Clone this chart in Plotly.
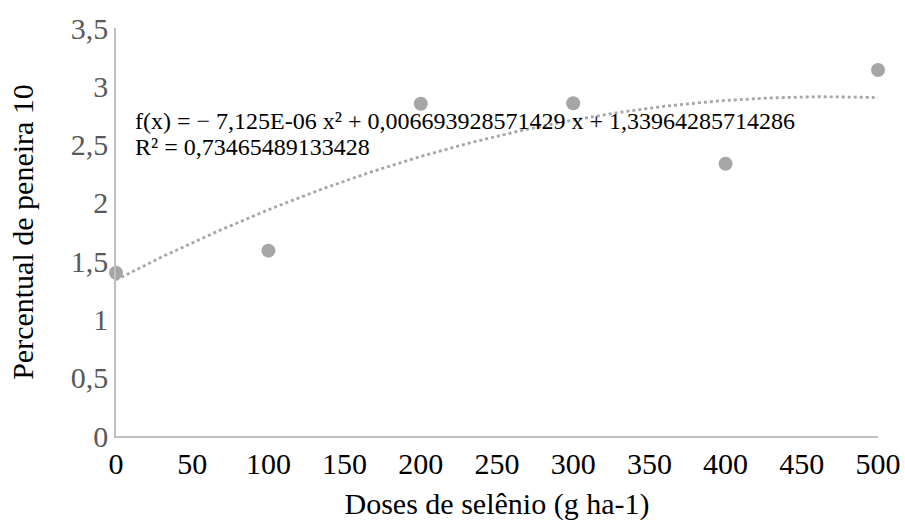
import numpy as np
import plotly.graph_objects as go

doses = [0, 100, 200, 300, 400, 500]
peneira10 = [1.40, 1.59, 2.85, 2.855, 2.335, 3.14]
x_ticks = [0, 50, 100, 150, 200, 250, 300, 350, 400, 450, 500]
y_ticks = [0, 0.5, 1, 1.5, 2, 2.5, 3, 3.5]
y_tick_text = ["0", "0,5", "1", "1,5", "2", "2,5", "3", "3,5"]
eq_line1 = "f(x) = − 7,125E-06 x² + 0,006693928571429 x + 1,33964285714286"
eq_line2 = "R² = 0,73465489133428"

coef = np.polyfit(doses, peneira10, 2)
xf = np.linspace(0, 500, 200)
yf = np.polyval(coef, xf)

FONT = "Liberation Serif"
GRAY = "#A6A6A6"

fig = go.Figure()
fig.add_trace(go.Scatter(x=xf, y=yf, mode="lines",
                         line=dict(color=GRAY, width=2.8, dash="dot"),
                         hoverinfo="skip", showlegend=False, cliponaxis=False))
fig.add_trace(go.Scatter(x=doses, y=peneira10, mode="markers",
                         marker=dict(color=GRAY, size=14),
                         showlegend=False, cliponaxis=False))

for txt, yv in [(eq_line1, 2.70), (eq_line2, 2.48)]:
    fig.add_annotation(x=0, y=yv, xref="x", yref="y", text=txt,
                       showarrow=False, xanchor="left", yanchor="middle", align="left",
                       xshift=17, font=dict(family=FONT, size=24, color="#000000"))

fig.update_layout(
    width=905, height=532,
    margin=dict(l=116, r=27, t=28, b=96, autoexpand=False),
    paper_bgcolor="white", plot_bgcolor="white",
    font=dict(family=FONT),
    xaxis=dict(range=[0, 500], tickvals=x_ticks, showgrid=False, zeroline=False,
               showline=True, linecolor="#BFBFBF", linewidth=1.5, automargin=False,
               ticks="", tickfont=dict(family=FONT, size=30, color="#000000"),
               title=dict(text="Doses de selênio (g ha-1)",
                          font=dict(family=FONT, size=30, color="#000000"), standoff=14)),
    yaxis=dict(range=[0, 3.5], tickvals=y_ticks, ticktext=y_tick_text, showgrid=False,
               zeroline=False, showline=True, linecolor="#BFBFBF", linewidth=1.5,
               automargin=False,
               ticks="", tickfont=dict(family=FONT, size=30, color="#595959"),
               title=dict(text="Percentual de peneira 10",
                          font=dict(family=FONT, size=30, color="#000000"), standoff=28)),
)

fig.write_html("out.html")
